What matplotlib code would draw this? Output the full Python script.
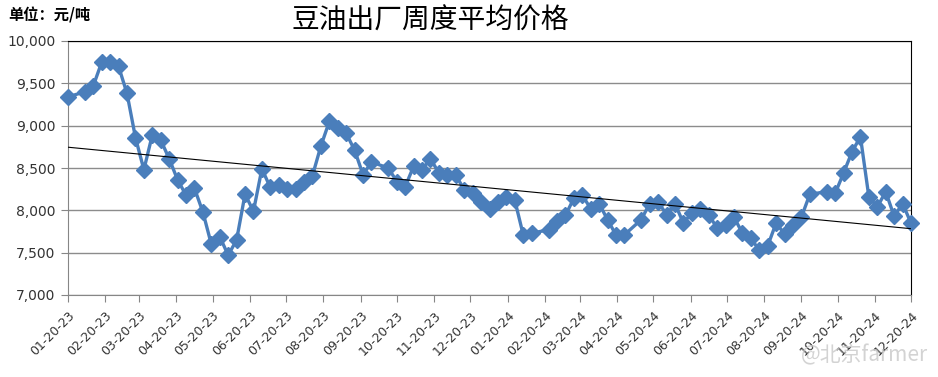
import matplotlib
matplotlib.use('Agg')
import matplotlib.pyplot as plt
import matplotlib.dates as mdates
import numpy as np
import pandas as pd

# 周度数据（每周五），节假日周缺失
start_date = '2023-01-20'
end_date = '2024-12-20'
holiday_weeks = ['2023-01-27', '2023-10-06', '2024-02-16', '2024-05-03', '2024-10-04']

prices = [9340, 9400, 9470, 9750, 9750, 9700, 9380, 8860, 8480, 8890,
          8830, 8610, 8360, 8180, 8260, 7980, 7600, 7690, 7470, 7650,
          8190, 7990, 8490, 8270, 8300, 8250, 8250, 8340, 8410, 8760,
          9050, 8970, 8910, 8710, 8420, 8570, 8500, 8340, 8280, 8520,
          8480, 8610, 8440, 8420, 8420, 8240, 8200, 8100, 8020, 8100,
          8160, 8120, 7710, 7730, 7770, 7870, 7940, 8140, 8180, 8020,
          8080, 7890, 7710, 7710, 7890, 8080, 8100, 7950, 8080, 7850,
          7970, 8020, 7950, 7790, 7830, 7920, 7730, 7670, 7530, 7580,
          7850, 7720, 7830, 7920, 8190, 8220, 8200, 8440, 8690, 8870,
          8160, 8040, 8220, 7930, 8080, 7850]

weeks = pd.date_range(start_date, end_date, freq='W-FRI')
weeks = weeks[~weeks.isin(pd.to_datetime(holiday_weeks))]

tick_dates = pd.date_range('2023-01-01', periods=24, freq='MS') + pd.Timedelta(days=19)

cjk = ['Noto Sans CJK SC', 'DejaVu Sans']
blue = '#4A7EBB'

fig = plt.figure(figsize=(9.38, 3.77), dpi=100)
ax = fig.add_axes([68 / 938, 1 - 295 / 377, (911 - 68) / 938, (295 - 41) / 377])

x = mdates.date2num(weeks)
ax.plot(weeks, prices, color=blue, lw=2.4, marker='D', ms=8.5,
        mfc=blue, mec=blue, zorder=3, clip_on=False)

# 线性趋势线
k, b = np.polyfit(x, prices, 1)
xx = np.array([mdates.date2num(pd.Timestamp(start_date)), mdates.date2num(pd.Timestamp(end_date))])
ax.plot(xx, k * xx + b, color='black', lw=0.8, zorder=4)

ax.set_xlim(pd.Timestamp(start_date), pd.Timestamp(end_date))
ax.set_ylim(7000, 10000)
ax.set_yticks(np.arange(7000, 10001, 500))
ax.set_yticklabels([f'{v:,}' for v in range(7000, 10001, 500)])
ax.set_xticks(tick_dates)
ax.set_xticklabels([d.strftime('%m-%d-%y') for d in tick_dates],
                   rotation=45, ha='right', va='top', rotation_mode='anchor')

ax.grid(axis='y', color='#8c8c8c', lw=1)
ax.set_axisbelow(True)
for s in ['left', 'bottom']:
    ax.spines[s].set_color('#868686')
for s in ['top', 'right']:
    ax.spines[s].set_color('black')
ax.tick_params(axis='both', direction='out', length=5, color='#868686',
               labelcolor='#333333')
ax.tick_params(axis='y', labelsize=10, pad=4)
ax.tick_params(axis='x', labelsize=9, pad=5)

fig.text(430 / 938, 1 - 21 / 377, '豆油出厂周度平均价格', ha='center', va='center',
         fontsize=20, family=cjk, color='black')
fig.text(8 / 938, 1 - 15 / 377, '单位：元/吨', ha='left', va='center',
         fontsize=11, fontweight='bold', family=cjk, color='black')
fig.text(928 / 938, 1 - 355 / 377, '@北京farmer', ha='right', va='center',
         fontsize=15, family=cjk, color='#c8c8c8', alpha=0.8)

fig.savefig('out.png', dpi=100)
